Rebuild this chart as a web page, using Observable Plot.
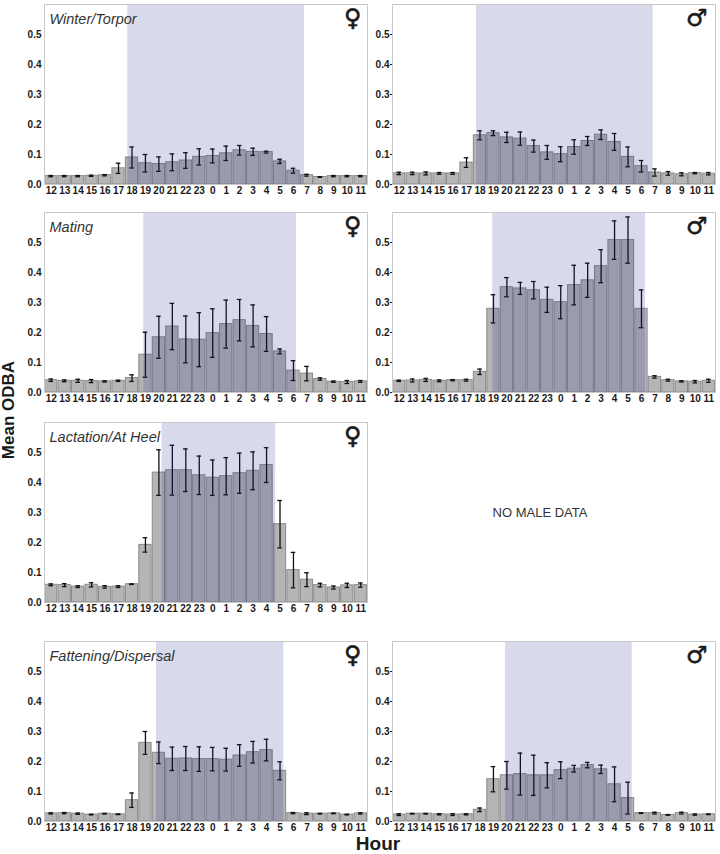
<!DOCTYPE html>
<html><head><meta charset="utf-8">
<script src="https://cdn.jsdelivr.net/npm/d3@7"></script>
<script src="https://cdn.jsdelivr.net/npm/@observablehq/plot@0.6"></script>
<style>
body{margin:0;background:#fff;}
#fig{position:relative;width:720px;height:854px;font-family:"Liberation Sans",Arial,sans-serif;color:#1a1a1a;overflow:hidden;}
.panel{position:absolute;}
.ylab{position:absolute;left:-91px;top:400px;width:200px;height:20px;line-height:20px;text-align:center;font-size:17px;font-weight:bold;transform:rotate(-90deg);}
.xlab{position:absolute;left:328px;top:834px;width:100px;line-height:20px;text-align:center;font-size:19px;font-weight:bold;}
.nodata{position:absolute;left:440px;top:505px;width:200px;line-height:16px;text-align:center;font-size:13px;color:#333;}
</style>
</head><body>
<div id="fig">
  <div class="ylab">Mean ODBA</div>
  <div class="xlab">Hour</div>
  <div class="nodata">NO MALE DATA</div>
</div>
<script>
// Hours of the day, in plotted order
const hours = [12,13,14,15,16,17,18,19,20,21,22,23,0,1,2,3,4,5,6,7,8,9,10,11];
const yTicks = [0, 0.1, 0.2, 0.3, 0.4, 0.5];

// Winter/Torpor
const winterF   = [0.028,0.028,0.028,0.029,0.031,0.054,0.090,0.071,0.068,0.074,0.080,0.092,0.095,0.104,0.114,0.109,0.108,0.077,0.046,0.031,0.025,0.028,0.028,0.028];
const winterFse = [0.002,0.002,0.002,0.002,0.002,0.017,0.035,0.029,0.024,0.028,0.026,0.027,0.023,0.024,0.016,0.012,0.003,0.007,0.008,0.003,0.001,0.002,0.002,0.002];
const winterM   = [0.037,0.037,0.037,0.037,0.037,0.073,0.164,0.171,0.157,0.153,0.128,0.107,0.101,0.125,0.145,0.166,0.142,0.092,0.061,0.040,0.037,0.034,0.038,0.036];
const winterMse = [0.004,0.004,0.005,0.003,0.003,0.016,0.015,0.008,0.017,0.022,0.020,0.023,0.025,0.024,0.015,0.016,0.028,0.033,0.019,0.012,0.006,0.005,0.002,0.004];

// Mating
const matingF   = [0.041,0.039,0.039,0.038,0.037,0.039,0.048,0.126,0.184,0.220,0.177,0.176,0.198,0.228,0.241,0.222,0.195,0.137,0.073,0.063,0.045,0.036,0.035,0.037];
const matingFse = [0.004,0.003,0.005,0.005,0.002,0.002,0.011,0.075,0.070,0.077,0.078,0.090,0.081,0.080,0.069,0.070,0.058,0.008,0.033,0.024,0.004,0.002,0.005,0.003];
const matingM   = [0.039,0.040,0.042,0.039,0.041,0.041,0.069,0.279,0.351,0.347,0.341,0.309,0.301,0.358,0.374,0.421,0.508,0.508,0.279,0.052,0.041,0.037,0.036,0.039];
const matingMse = [0.002,0.005,0.005,0.003,0.002,0.003,0.009,0.047,0.032,0.020,0.029,0.042,0.055,0.066,0.057,0.055,0.064,0.077,0.063,0.004,0.003,0.002,0.004,0.005];

// Lactation/At Heel (female only)
const lactF   = [0.059,0.058,0.053,0.059,0.052,0.053,0.061,0.192,0.433,0.441,0.441,0.424,0.416,0.421,0.431,0.439,0.458,0.261,0.108,0.076,0.058,0.050,0.057,0.058];
const lactFse = [0.003,0.005,0.003,0.007,0.004,0.003,0.001,0.024,0.076,0.083,0.071,0.064,0.059,0.062,0.067,0.063,0.058,0.079,0.059,0.023,0.006,0.005,0.007,0.007];

// Fattening/Dispersal
const fatF   = [0.027,0.028,0.026,0.023,0.026,0.024,0.071,0.262,0.229,0.209,0.210,0.208,0.208,0.206,0.220,0.231,0.238,0.169,0.028,0.026,0.026,0.027,0.023,0.027];
const fatFse = [0.002,0.002,0.002,0.001,0.001,0.001,0.024,0.038,0.036,0.039,0.040,0.041,0.039,0.038,0.036,0.036,0.036,0.030,0.002,0.003,0.001,0.001,0.001,0.002];
const fatM   = [0.023,0.026,0.026,0.024,0.023,0.024,0.039,0.141,0.154,0.158,0.154,0.154,0.171,0.176,0.188,0.174,0.124,0.078,0.028,0.028,0.022,0.028,0.023,0.024];
const fatMse = [0.003,0.001,0.001,0.002,0.003,0.002,0.006,0.042,0.046,0.070,0.067,0.042,0.028,0.011,0.009,0.014,0.058,0.053,0.001,0.003,0.001,0.003,0.002,0.001];

// Night shading: [sunset, sunrise] in clock hours
const nightWinterF = [18.19, 7.32];
const nightWinterM = [18.24, 7.37];
const nightMatingF = [19.38, 6.72];
const nightMatingM = [19.45, 6.80];
const nightLactF   = [20.74, 5.18];
const nightFatF    = [20.32, 5.78];
const nightFatM    = [20.40, 5.81];

const panels = [
  {vals: winterF, se: winterFse, night: nightWinterF, title: "Winter/Torpor", sym: "♀", left: 0,   top: 0},
  {vals: winterM, se: winterMse, night: nightWinterM, title: "",              sym: "♂", left: 348, top: 0, male: true},
  {vals: matingF, se: matingFse, night: nightMatingF, title: "Mating",        sym: "♀", left: 0,   top: 208},
  {vals: matingM, se: matingMse, night: nightMatingM, title: "",              sym: "♂", left: 348, top: 208, male: true},
  {vals: lactF,   se: lactFse,   night: nightLactF,   title: "Lactation/At Heel", sym: "♀", left: 0, top: 418},
  {vals: fatF,    se: fatFse,    night: nightFatF,    title: "Fattening/Dispersal", sym: "♀", left: 0, top: 637},
  {vals: fatM,    se: fatMse,    night: nightFatM,    title: "",              sym: "♂", left: 348, top: 637, male: true}
];

const toPos = h => (((h - hours[0]) % 24) + 24) % 24;
const cap = 0.17;

function makePanel(p) {
  const data = hours.map((h, i) => ({i, h, v: p.vals[i], s: p.se[i]}));
  const shade = [{x1: toPos(p.night[0]), x2: toPos(p.night[1])}];
  const marks = [
    Plot.rect(data, {x1: "i", x2: d => d.i + 1, y1: 0, y2: "v", fill: "#b5b5b5", stroke: "#8a8a8a", strokeWidth: 1, insetLeft: 0.6, insetRight: 0.6}),
    Plot.ruleX(data, {x: d => d.i + 0.5, y1: d => d.v - d.s, y2: d => d.v + d.s, stroke: "#111", strokeWidth: 1.3}),
    Plot.ruleY(data, {y: d => d.v + d.s, x1: d => d.i + 0.5 - cap, x2: d => d.i + 0.5 + cap, stroke: "#111", strokeWidth: 1.3}),
    Plot.ruleY(data, {y: d => d.v - d.s, x1: d => d.i + 0.5 - cap, x2: d => d.i + 0.5 + cap, stroke: "#111", strokeWidth: 1.3}),
    Plot.rect(shade, {x1: "x1", x2: "x2", y1: 0, y2: 0.6, fill: "rgb(31,31,143)", fillOpacity: 0.17}),
    Plot.frame({stroke: "#c8c8c8"}),
    Plot.text([p.sym], {frameAnchor: "top-right", textAnchor: "end", lineAnchor: "bottom", dx: p.male ? -8 : -6, dy: 21, fontSize: 24, fontWeight: "bold", fontFamily: "'DejaVu Sans'", fill: "#1a1a1a", stroke: "#1a1a1a", strokeWidth: 0.6})
  ];
  if (p.title) {
    marks.push(Plot.text([p.title], {frameAnchor: "top-left", textAnchor: "start", lineAnchor: "bottom", dx: 5, dy: 19, fontSize: 14.5, fontStyle: "italic", fontWeight: "normal", fill: "#333"}));
  }
  const svg = Plot.plot({
    width: 368, height: 200,
    marginLeft: 44, marginRight: 1, marginTop: 4, marginBottom: 16,
    style: {fontFamily: "'Liberation Sans', Arial, sans-serif", fontSize: "10px", fontWeight: "bold", color: "#1a1a1a", background: "transparent", overflow: "visible"},
    x: {domain: [0, 24], ticks: hours.map((h, i) => i + 0.5), tickFormat: d => String(hours[Math.floor(d)]), tickSize: 0, tickPadding: 2, label: null},
    y: {domain: [0, 0.6], ticks: yTicks, tickFormat: d => d.toFixed(1), tickSize: p.male ? 2 : 0, tickPadding: p.male ? 1 : 3, label: null},
    marks
  });
  const wrap = document.createElement("div");
  wrap.className = "panel";
  wrap.style.left = p.left + "px";
  wrap.style.top = p.top + "px";
  wrap.appendChild(svg);
  document.getElementById("fig").appendChild(wrap);
}
panels.forEach(makePanel);
</script>
</body></html>
